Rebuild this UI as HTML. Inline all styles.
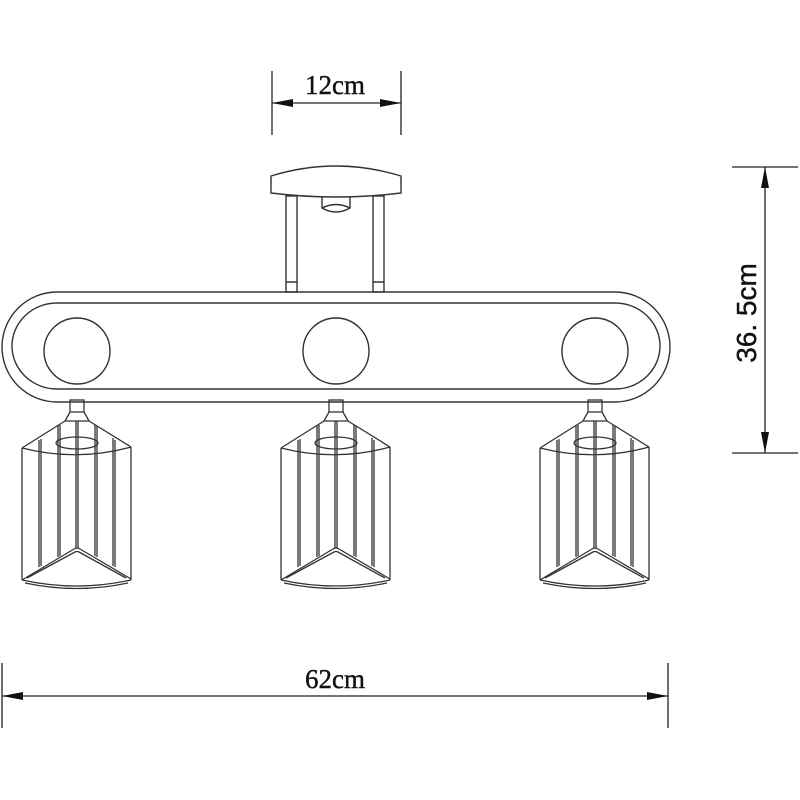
<!DOCTYPE html>
<html><head><meta charset="utf-8"><style>html,body{margin:0;padding:0;background:#fff}svg{display:block}</style></head>
<body>
<svg width="800" height="800" viewBox="0 0 800 800" xmlns="http://www.w3.org/2000/svg">
<defs>
<g id="shade" fill="none" stroke="#333" stroke-width="1.3">
  <rect x="-7" y="400" width="14" height="12"/>
  <path d="M-7,412 L-12,421 L12,421 L7,412"/>
  <path d="M-12,421 L-55,448 M12,421 L54,447"/>
  <path d="M-55,448 Q0,462 54,447"/>
  <ellipse cx="0" cy="443" rx="21" ry="6"/>
  <path d="M-55,448 L-55,580 M54,447 L54,580"/>
  <path d="M-38,440 L-38,567 M-36,439 L-36,566 M-19,426 L-19,557 M-17,425 L-17,556 M-1,421 L-1,548 M1,421 L1,548 M18,425 L18,556 M20,426 L20,557 M36,438 L36,566 M38,440 L38,567"/>
  <path d="M-55,580 L-3,549 Q0,547 3,549 L54,579"/>
  <path d="M-50,578 L-2,552 Q0,551 2,552 L49,578"/>
  <path d="M-55,580 Q0,592 54,580"/>
  <path d="M-52,583 Q0,594 51,583"/>
</g>
</defs>
<g fill="none" stroke="#333" stroke-width="1.4">
  <!-- canopy -->
  <path d="M271,176 Q336,156 401,176 L401,193 Q336,201 271,193 Z"/>
  <path d="M322,197 L322,208 Q336,216 350,208 L350,197"/>
  <path d="M322,208 Q336,201 350,208"/>
  <rect x="286" y="196" width="11" height="96"/>
  <rect x="373" y="196" width="11" height="96"/>
  <path d="M286,282 L297,282 M373,282 L384,282"/>
  <!-- bar -->
  <path d="M57,292 L615,292 A55,55 0 0 1 615,402 L57,402 A55,55 0 0 1 57,292 Z"/>
  <path d="M57,303 L615,303 A45,43 0 0 1 615,389 L57,389 A45,43 0 0 1 57,303 Z"/>
  <circle cx="77" cy="351" r="33"/>
  <circle cx="336" cy="351" r="33"/>
  <circle cx="595" cy="351" r="33"/>
</g>
<use href="#shade" transform="translate(77,0)"/>
<use href="#shade" transform="translate(336,0)"/>
<use href="#shade" transform="translate(595,0)"/>
<!-- dimensions -->
<g stroke="#222" stroke-width="1.3" fill="none">
  <path d="M272,71 L272,135 M401,71 L401,135 M272,103 L401,103"/>
  <path d="M732,167 L798,167 M732,453 L798,453 M765,167 L765,453"/>
  <path d="M2,663 L2,728 M668,663 L668,728 M2,696 L668,696"/>
</g>
<g fill="#111">
  <path d="M272,103 L293,99 L293,107 Z"/><path d="M401,103 L380,99 L380,107 Z"/>
  <path d="M765,167 L761,188 L769,188 Z"/><path d="M765,453 L761,432 L769,432 Z"/>
  <path d="M2,696 L23,692 L23,700 Z"/><path d="M668,696 L647,692 L647,700 Z"/>
</g>
<g font-family="Liberation Serif, serif" font-size="27" fill="#111" text-anchor="middle" stroke="#111" stroke-width="0.4">
  <text x="335" y="94">12cm</text>
  <text x="335" y="688">62cm</text>
  <text x="0" y="0" transform="translate(756,313) rotate(-90)" font-family="Liberation Sans, sans-serif" font-size="28">36. 5cm</text>
</g>
</svg>
</body></html>
